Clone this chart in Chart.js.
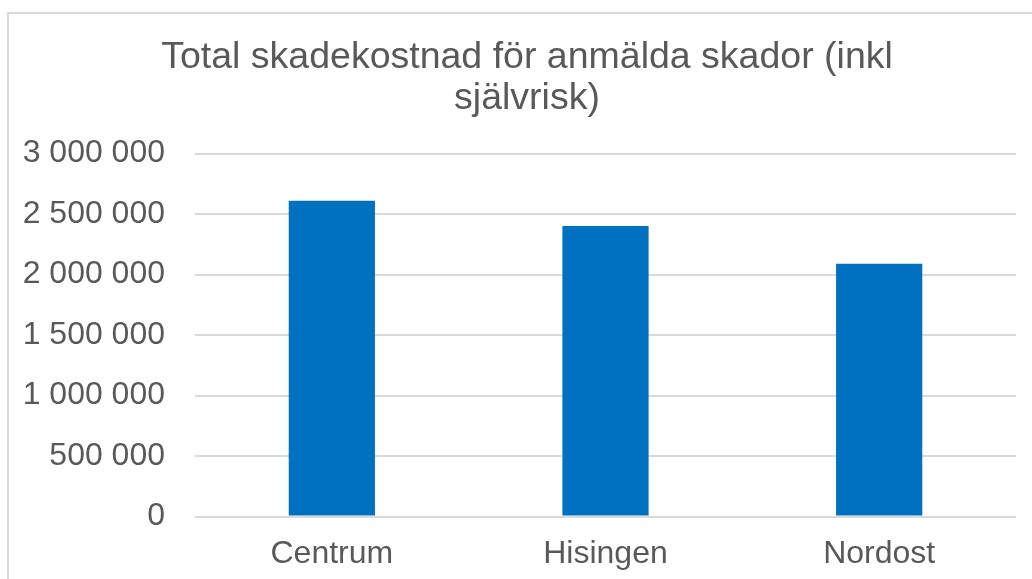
<!DOCTYPE html>
<html>
<head>
<meta charset="utf-8">
<script src="https://cdn.jsdelivr.net/npm/chart.js@4/dist/chart.umd.min.js"></script>
<style>
  html, body { margin: 0; padding: 0; background: #fff; overflow: hidden; }
  #frame { position: absolute; left: 7px; top: 12px; width: 1100px; height: 700px; border: 2px solid #d9d9d9; }
  #wrap { position: absolute; left: 0; top: 0; width: 1032px; height: 579px; }
</style>
</head>
<body>
<div id="frame"></div>
<div id="wrap"><canvas id="chart" width="1032" height="579"></canvas></div>
<script>
const categories = ["Centrum", "Hisingen", "Nordost"]
const costs = [2610000, 2400000, 2090000]
const titleLines = ["Total skadekostnad för anmälda skador (inkl", "självrisk)"]

const fmt = (v) => String(v).replace(/\B(?=(\d{3})+(?!\d))/g, " ")

// tick labels stick out past the y scale box on the left, widen its clip area
const unclipLabels = {
  id: "unclipLabels",
  afterLayout(chart) {
    chart.scales.y.left = 10
  },
}

const ctx = document.getElementById("chart").getContext("2d")
new Chart(ctx, {
  type: "bar",
  data: {
    labels: categories,
    datasets: [
      {
        label: "Total skadekostnad",
        data: costs,
        backgroundColor: "#0070c0",
        categoryPercentage: 1,
        barPercentage: 0.315,
      },
    ],
  },
  options: {
    responsive: false,
    animation: false,
    layout: { padding: { top: 0, left: 38, right: 16, bottom: -4 } },
    plugins: {
      legend: { display: false },
      tooltip: { enabled: false },
      title: {
        display: true,
        text: titleLines,
        color: "#595959",
        font: { family: "Liberation Sans, Arial, sans-serif", size: 37.5, weight: "normal", lineHeight: 1.1 },
        padding: { top: 37, bottom: 34 },
      },
    },
    scales: {
      x: {
        grid: { display: false },
        border: { display: false },
        ticks: {
          color: "#595959",
          padding: 10,
          font: { family: "Liberation Sans, Arial, sans-serif", size: 32 },
        },
      },
      y: {
        min: 0,
        max: 3000000,
        border: { display: false },
        grid: { color: "#d9d9d9", lineWidth: 2, drawTicks: false },
        afterFit: (scale) => { scale.width = 157 },
        ticks: {
          stepSize: 500000,
          color: "#595959",
          padding: 30,
          font: { family: "Liberation Sans, Arial, sans-serif", size: 32 },
          callback: (v) => fmt(v),
        },
      },
    },
  },
  plugins: [unclipLabels],
})
</script>
</body>
</html>
